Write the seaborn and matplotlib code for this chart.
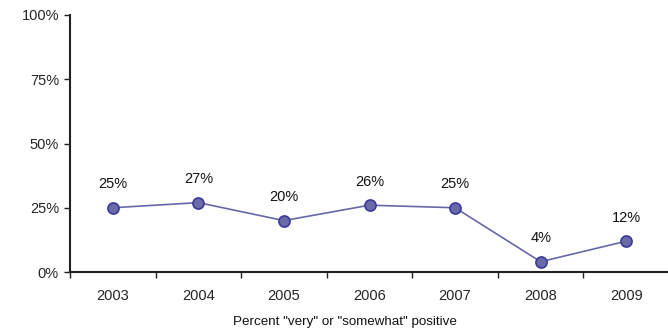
import matplotlib
matplotlib.use("Agg")
import matplotlib.pyplot as plt
import seaborn as sns
import pandas as pd
from matplotlib.ticker import FixedLocator

years = ["2003", "2004", "2005", "2006", "2007", "2008", "2009"]
values = [25, 27, 20, 26, 25, 4, 12]
y_ticks = [0, 25, 50, 75, 100]
y_tick_labels = ["0%", "25%", "50%", "75%", "100%"]

sns.set_style("white")
plt.rcParams["font.family"] = ["Liberation Sans", "DejaVu Sans"]

df = pd.DataFrame({"pos": range(len(years)), "year": years, "value": values})

fig = plt.figure(figsize=(6.68, 3.32), dpi=100)
ax = fig.add_axes([70 / 668, 1 - 272 / 332, 599 / 668, 257 / 332])

sns.lineplot(data=df, x="pos", y="value", ax=ax, color="#6868A8", linewidth=1.2,
             marker="o", markersize=8, markerfacecolor="#6A6AA6",
             markeredgecolor="#3A3AA0", markeredgewidth=1.2)

for p, v in zip(df["pos"], df["value"]):
    ax.annotate(f"{v}%", (p, v), xytext=(0, 17), textcoords="offset points",
                ha="center", va="center", fontsize=10.5, color="#111111")

ax.set_xlim(-0.5, len(years) - 0.5)
ax.set_ylim(0, 100)
ax.set_yticks(y_ticks)
ax.set_yticklabels(y_tick_labels, fontsize=10.5)
ax.set_xticks(range(len(years)))
ax.set_xticklabels(years, fontsize=10.5)
ax.xaxis.set_minor_locator(FixedLocator([i - 0.5 for i in range(len(years) + 1)]))
ax.tick_params(axis="x", which="major", length=0, pad=12)
ax.tick_params(axis="x", which="minor", length=4, width=1, color="#222222", direction="out", bottom=True)
ax.tick_params(axis="y", length=4, width=1, color="#222222", direction="out", left=True, pad=4)
ax.set_xlabel("")
ax.set_ylabel("")

for side in ["top", "right"]:
    ax.spines[side].set_visible(False)
for side in ["left", "bottom"]:
    ax.spines[side].set_color("#222222")
    ax.spines[side].set_linewidth(1.5)

fig.text(345 / 668, 1 - 322 / 332, 'Percent "very" or "somewhat" positive',
         ha="center", va="center", fontsize=9.6, color="#111111")

fig.savefig("out.png", dpi=100)
